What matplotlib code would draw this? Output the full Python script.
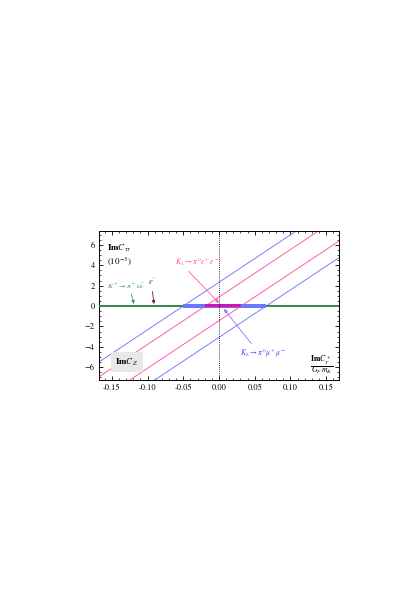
import numpy as np
import matplotlib
matplotlib.use("Agg")
import matplotlib.pyplot as plt
from matplotlib.ticker import MultipleLocator, FormatStrFormatter

plt.rcParams['font.family'] = ['STIXGeneral', 'Liberation Serif', 'DejaVu Serif']
plt.rcParams['mathtext.fontset'] = 'stix'

# data
x_range = [-0.168, 0.168]
y_range = [-7.25, 7.35]
slope = 46.5                      # ImC_tautau per ImC_T / (G_F m_K)
blue_x0 = [-0.050, 0.066]         # K_L -> pi0 mu mu band edges at y = 0
pink_x0 = [-0.019, 0.031]         # K_L -> pi0 e e band edges at y = 0
blue_half = 0.17                  # half height of the allowed strips
pink_half = 0.17
x_ticks = [-0.15, -0.10, -0.05, 0.00, 0.05, 0.10, 0.15]
y_ticks = [-6, -4, -2, 0, 2, 4, 6]

c_blue = '#7c7cff'
c_pink = '#ff5aa8'
c_blue_band = '#6a78ff'
c_pink_band = '#d614a8'
c_green = '#3c9a5e'

fig = plt.figure(figsize=(4.2, 5.95), dpi=100)
ax = fig.add_axes([0.2357, 0.3613, 0.5714, 0.2504])

xs = np.array(x_range)
for x0 in blue_x0:
    ax.plot(xs, slope * (xs - x0), color=c_blue, lw=0.7)
for x0 in pink_x0:
    ax.plot(xs, slope * (xs - x0), color=c_pink, lw=0.7)

# horizontal green band (whole width)
ax.axhline(-0.04, color='#333333', lw=1.3, zorder=3)
ax.axhline(0.05, color=c_green, lw=1.1, zorder=4)

# allowed regions: band between lines cut by the thin horizontal band
ax.fill_between(blue_x0, -blue_half, blue_half, color=c_blue_band, lw=0, zorder=5)
ax.fill_between(pink_x0, -pink_half + 0.03, pink_half + 0.03, color=c_pink_band, lw=0, zorder=6)

ax.axvline(0, color='black', lw=0.6, ls=(0, (1, 1.5)), zorder=7)

ax.set_xlim(x_range)
ax.set_ylim(y_range)
ax.set_xticks(x_ticks)
ax.set_yticks(y_ticks)
ax.xaxis.set_minor_locator(MultipleLocator(0.01))
ax.yaxis.set_minor_locator(MultipleLocator(0.5))
ax.xaxis.set_major_formatter(FormatStrFormatter('%.2f'))
ax.tick_params(which='both', direction='in', top=True, right=True, labelsize=6, pad=3)
ax.tick_params(which='major', length=3, width=0.6)
ax.tick_params(which='minor', length=1.5, width=0.5)
for s in ax.spines.values():
    s.set_linewidth(0.7)

# labels
ax.text(-0.157, 5.6, r'Im$C_{\tau\tau}$', fontsize=6.5, fontweight='bold', va='center')
ax.text(-0.157, 4.3, r'$(10^{-3})$', fontsize=6.5, va='center')
ax.text(0.144, -5.75, r'$\frac{\mathbf{Im}C_T^+}{G_F\, m_K}$', fontsize=8, ha='center', va='center')
ax.text(-0.129, -5.5, r'Im$C_Z$', fontsize=6.5, fontweight='bold', ha='center', va='center',
        bbox=dict(boxstyle='square,pad=0.5', fc='#e8e8e8', ec='none'))

ax.annotate(r'$K^+\rightarrow\pi^+\nu\bar{\nu}$', xy=(-0.119, 0.2), xytext=(-0.157, 1.9),
            fontsize=5.3, color=c_green, va='center',
            arrowprops=dict(arrowstyle='-|>', color=c_green, lw=0.6, mutation_scale=5,
                            shrinkA=0, shrinkB=0, relpos=(0.62, 0.0)))
ax.annotate(r"$\varepsilon'$", xy=(-0.091, 0.2), xytext=(-0.094, 2.4),
            fontsize=6, color='#7a1f3a', ha='center', va='center',
            arrowprops=dict(arrowstyle='-|>', color='#7a1f3a', lw=0.6, mutation_scale=5,
                            shrinkA=1, shrinkB=0, relpos=(0.5, 0.0)))
ax.annotate(r'$K_L\rightarrow\pi^0e^+e^-$', xy=(0.0, 0.3), xytext=(-0.062, 4.3),
            fontsize=5.5, color=c_pink, va='center',
            arrowprops=dict(arrowstyle='-|>', color=c_pink, lw=0.6, mutation_scale=5,
                            shrinkA=0, shrinkB=0, relpos=(0.25, 0.0)))
ax.annotate(r'$K_L\rightarrow\pi^0\mu^+\mu^-$', xy=(0.007, -0.3), xytext=(0.029, -4.6),
            fontsize=5.5, color='#4a4aff', va='center',
            arrowprops=dict(arrowstyle='-|>', color=c_blue, lw=0.6, mutation_scale=5,
                            shrinkA=0, shrinkB=0, relpos=(0.3, 1.0)))

fig.savefig('out.png', dpi=100)
